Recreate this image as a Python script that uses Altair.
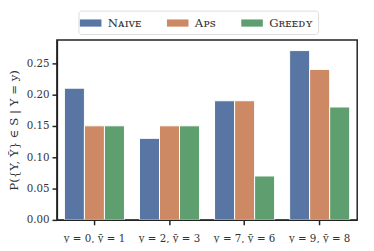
import altair as alt
import pandas as pd

categories = ["y = 0, ȳ = 1", "y = 2, ȳ = 3", "y = 7, ȳ = 6", "y = 9, ȳ = 8"]
methods = ["Nᴀɪᴠᴇ", "Aᴘꜱ", "Gʀᴇᴇᴅʏ"]
naive = [0.21, 0.13, 0.19, 0.27]
aps = [0.15, 0.15, 0.19, 0.24]
greedy = [0.15, 0.15, 0.07, 0.18]
colors = ["#5975a4", "#cc8963", "#5f9e6e"]

rows = []
for m, vals in zip(methods, [naive, aps, greedy]):
    for c, v in zip(categories, vals):
        rows.append({"cat": c, "method": m, "value": v})
df = pd.DataFrame(rows)

font = "DejaVu Serif"

chart = alt.Chart(df).mark_bar(stroke="white", strokeWidth=1).encode(
    x=alt.X("cat:N", sort=categories, title=None,
            scale=alt.Scale(paddingInner=0.2, paddingOuter=0.1),
            axis=alt.Axis(labelAngle=0, labelFont=font, labelFontSize=10.5,
                          labelColor="#333", ticks=True,
                          tickColor="#222", tickSize=5, tickWidth=1.5,
                          domain=True, domainColor="#222", domainWidth=1.5, zindex=1,
                          labelPadding=9)),
    xOffset=alt.XOffset("method:N", sort=methods),
    y=alt.Y("value:Q", title="P({Y, Ȳ} ∈ S | Y = y)",
            scale=alt.Scale(domain=[0, 0.287], nice=False),
            axis=alt.Axis(values=[0, 0.05, 0.1, 0.15, 0.2, 0.25], format=".2f",
                          labelFont=font, labelFontSize=10.5, labelColor="#333",
                          ticks=True, tickColor="#222", tickSize=5, tickWidth=1.5,
                          domain=True, domainColor="#222", domainWidth=1.5, zindex=1,
                          grid=False, labelPadding=3,
                          titleFont=font, titleFontSize=12, titleFontWeight="normal",
                          titleColor="#333", titlePadding=6)),
    color=alt.Color("method:N", sort=methods,
                    scale=alt.Scale(domain=methods, range=colors),
                    legend=alt.Legend(title=None, orient="none", direction="horizontal",
                                      legendX=22, legendY=-30, columns=3,
                                      symbolType="M-1.5,-0.5L1.5,-0.5L1.5,0.5L-1.5,0.5Z",
                                      symbolSize=216, symbolStrokeWidth=0,
                                      labelFont=font, labelFontSize=12, labelColor="#333",
                                      columnPadding=25, padding=5,
                                      strokeColor="#ddd", cornerRadius=3,
                                      fillColor="white", labelOffset=10)),
).properties(
    width=307, height=184,
    autosize=alt.AutoSizeParams(type="none"),
    padding={"left": 50, "top": 30, "right": 9, "bottom": 21},
).configure_view(stroke="#222", strokeWidth=1.5)

chart.save("out.html", embed_options={"renderer": "svg", "actions": False})
